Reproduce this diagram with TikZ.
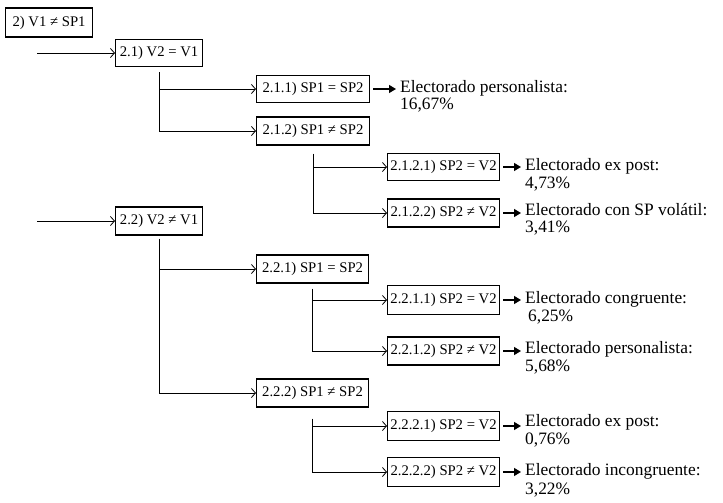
\documentclass[tikz,border=0pt]{standalone}
\usepackage{fontspec}
\setmainfont{Liberation Serif}
\usetikzlibrary{arrows.meta,calc}
\begin{document}
\begin{tikzpicture}[x=1pt,y=-1pt,
 box/.style={draw,line width=1.1pt,inner sep=0pt,anchor=west,minimum height=28pt,font=\fontsize{14.7}{17}\selectfont},
 conn/.style={line width=0.8pt,-{Straight Barb[length=4pt,width=9pt,line width=0.8pt]}},
 farr/.style={line width=1.2pt,-{Triangle[length=7pt,width=8pt]},shorten >=4pt},
 lbl/.style={anchor=base west,inner sep=0pt,font=\fontsize{17.4}{20}\selectfont}]
\useasboundingbox (0,0) rectangle (723,503);

% boxes
\node[box,minimum width=87pt,minimum height=29pt] (b0) at (5,22.5) {2) V1 ≠ SP1};
\node[box,minimum width=87pt,minimum height=27pt] (b21) at (115,53) {2.1) V2 = V1};
\node[box,minimum width=113pt,minimum height=27pt] (b211) at (256,89) {2.1.1) SP1 = SP2};
\node[box,minimum width=113pt] (b212) at (256,131) {2.1.2) SP1 ≠ SP2};
\node[box,minimum width=112pt,minimum height=27pt] (b2121) at (387,167) {2.1.2.1) SP2 = V2};
\node[box,minimum width=112pt] (b2122) at (387,213) {2.1.2.2) SP2 ≠ V2};
\node[box,minimum width=87pt] (b22) at (115,221) {2.2) V2 ≠ V1};
\node[box,minimum width=112pt] (b221) at (256,269) {2.2.1) SP1 = SP2};
\node[box,minimum width=112pt,minimum height=29pt] (b2211) at (387,300) {2.2.1.1) SP2 = V2};
\node[box,minimum width=112pt] (b2212) at (387,351) {2.2.1.2) SP2 ≠ V2};
\node[box,minimum width=112pt] (b222) at (256,393) {2.2.2) SP1 ≠ SP2};
\node[box,minimum width=112pt,minimum height=29pt] (b2221) at (387,426) {2.2.2.1) SP2 = V2};
\node[box,minimum width=112pt,minimum height=29pt] (b2222) at (387,472) {2.2.2.2) SP2 ≠ V2};

% entry arrows
\coordinate (s21) at (37,53);
\coordinate (s22) at (37,221);
\draw[conn] (s21) -- (b21.west);
\draw[conn] (s22) -- (b22.west);

% tree connectors
\draw[conn] ([yshift=-5pt]b21.south) |- (b212.west);
\draw[conn] (b21.south |- b211.west) -- (b211.west);
\draw[conn] ([yshift=-8pt]b212.south) |- (b2122.west);
\draw[conn] (b212.south |- b2121.west) -- (b2121.west);
\draw[conn] ([yshift=-3pt]b22.south) |- (b222.west);
\draw[conn] (b22.south |- b221.west) -- (b221.west);
\draw[conn] ([yshift=-5pt]b221.south) |- (b2212.west);
\draw[conn] (b221.south |- b2211.west) -- (b2211.west);
\draw[conn] ([yshift=-11pt]b222.south) |- (b2222.west);
\draw[conn] (b222.south |- b2221.west) -- (b2221.west);

% labels
\node[lbl] (l211) at (400,92.5) {Electorado personalista:};
\node[lbl] (l211b) at (400,109.5) {16,67\%};
\node[lbl] (l2121) at (525,170.5) {Electorado ex post:};
\node[lbl] (l2121b) at (525,188.5) {4,73\%};
\node[lbl] (l2122) at (525,215.5) {Electorado con SP volátil:};
\node[lbl] (l2122b) at (525,232.5) {3,41\%};
\node[lbl] (l2211) at (525,303.5) {Electorado congruente:};
\node[lbl] (l2211b) at (528,321.5) {6,25\%};
\node[lbl] (l2212) at (525,353.5) {Electorado personalista:};
\node[lbl] (l2212b) at (525,371.5) {5,68\%};
\node[lbl] (l2221) at (525,426.5) {Electorado ex post:};
\node[lbl] (l2221b) at (525,444.5) {0,76\%};
\node[lbl] (l2222) at (525,475.5) {Electorado incongruente:};
\node[lbl] (l2222b) at (525,494.5) {3,22\%};

% result arrows
\draw[farr] ([xshift=3pt]b211.east) -- (b211.east -| l211.west);
\draw[farr] ([xshift=3pt]b2121.east) -- (b2121.east -| l2121.west);
\draw[farr] ([xshift=3pt]b2122.east) -- (b2122.east -| l2122.west);
\draw[farr] ([xshift=3pt]b2211.east) -- (b2211.east -| l2211.west);
\draw[farr] ([xshift=3pt]b2212.east) -- (b2212.east -| l2212.west);
\draw[farr] ([xshift=3pt]b2221.east) -- (b2221.east -| l2221.west);
\draw[farr] ([xshift=3pt]b2222.east) -- (b2222.east -| l2222.west);
\end{tikzpicture}
\end{document}
